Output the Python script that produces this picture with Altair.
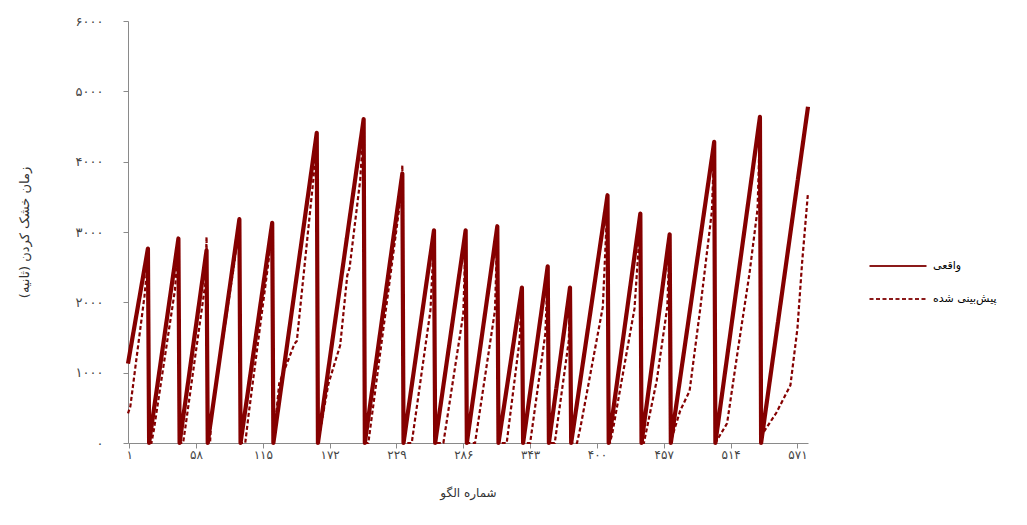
import json
import altair as alt
import pandas as pd

# ---- data (pattern index, drying time in seconds) ----
actual_x = [0, 17, 18, 43, 44, 67, 68, 95, 96, 123, 124, 161, 162, 201, 202, 234, 235, 261,
            262, 288, 289, 315, 316, 336, 337, 358, 359, 377, 378, 409, 410, 437, 438, 462,
            463, 500, 501, 539, 540, 580]
actual_y = [1130, 2765, 0, 2908, 0, 2740, 0, 3182, 0, 3130, 0, 4410, 0, 4605, 0, 3832, 0, 3025,
            0, 3025, 0, 3082, 0, 2210, 0, 2513, 0, 2210, 0, 3523, 0, 3263, 0, 2968,
            0, 4282, 0, 4637, 0, 4780]

pred_x = [0, 2, 14, 17,
          18, 20, 22, 40, 43,
          44, 47, 49, 66, 67,
          68, 70, 71, 91, 95,
          96, 100, 103, 120, 123,
          124, 129, 142, 144, 158, 161,
          162, 171, 181, 187, 189, 198, 201,
          202, 205, 220, 233, 234,
          235, 242, 258, 261,
          262, 269, 286, 288,
          289, 296, 313, 315,
          316, 323, 334, 336,
          337, 343, 356, 358,
          359, 364, 376, 377,
          378, 383, 386, 405, 409,
          410, 411, 413, 432, 437,
          438, 440, 451, 460, 462,
          463, 464, 471, 479, 488, 498, 500,
          501, 511, 520, 530, 537, 539,
          540, 553, 565, 571, 575, 580]
pred_y = [420, 520, 2080, 2600,
          0, 0, 180, 2170, 2800,
          0, 0, 230, 2270, 2930,
          0, 0, 370, 2600, 3150,
          0, 0, 420, 2600, 3050,
          0, 850, 1410, 1450, 3730, 4300,
          0, 845, 1390, 2380, 2490, 3730, 4500,
          0, 0, 1900, 3550, 3950,
          0, 0, 1890, 2950,
          0, 0, 1840, 2950,
          0, 0, 1885, 3000,
          0, 0, 1460, 2150,
          0, 0, 1560, 2450,
          0, 0, 1460, 2150,
          0, 0, 230, 1935, 3450,
          0, 0, 130, 1910, 3150,
          0, 0, 890, 1935, 2900,
          0, 80, 460, 740, 1900, 3290, 4200,
          0, 280, 1300, 2400, 3330, 4500,
          100, 430, 820, 1630, 2570, 3560]

series_names = ["واقعی", "پیش‌بینی شده"]

x_tick_values = [1, 58, 115, 172, 229, 286, 343, 400, 457, 514, 571]
x_tick_labels = ["۱", "۵۸", "۱۱۵", "۱۷۲", "۲۲۹", "۲۸۶", "۳۴۳", "۴۰۰", "۴۵۷", "۵۱۴", "۵۷۱"]
y_tick_values = [0, 1000, 2000, 3000, 4000, 5000, 6000]
y_tick_labels = ["۰", "۱۰۰۰", "۲۰۰۰", "۳۰۰۰", "۴۰۰۰", "۵۰۰۰", "۶۰۰۰"]

x_title = "شماره الگو"
y_title = "زمان خشک کردن (ثانیه)"

# ---- build table ----
df = pd.DataFrame({
    "i": actual_x + pred_x,
    "v": actual_y + pred_y,
    "s": [series_names[0]] * len(actual_x) + [series_names[1]] * len(pred_x),
})

FONT = "DejaVu Sans"
RED = "#850000"

x_label_expr = "%s[indexof(%s, datum.value)]" % (
    json.dumps(x_tick_labels, ensure_ascii=False), json.dumps(x_tick_values))
y_label_expr = "%s[indexof(%s, datum.value)]" % (
    json.dumps(y_tick_labels, ensure_ascii=False), json.dumps(y_tick_values))

x_enc = alt.X(
    "i:Q",
    scale=alt.Scale(domain=[0, 580], nice=False, zero=False),
    axis=alt.Axis(
        values=x_tick_values, labelExpr=x_label_expr, grid=False,
        domainColor="#8a8a8a", tickColor="#8a8a8a", tickSize=5,
        labelFont=FONT, labelFontSize=12, labelColor="#444444", labelPadding=1,
        labelFlush=False, labelOverlap=False,
        title=x_title, titleFont=FONT, titleFontSize=12, titleFontWeight="normal",
        titleColor="#333333", titleX=340, titleY=49, titleBaseline="middle",
        titleAlign="center",
    ),
)
y_enc = alt.Y(
    "v:Q",
    scale=alt.Scale(domain=[0, 6000], nice=False),
    axis=alt.Axis(
        values=y_tick_values, labelExpr=y_label_expr, grid=False,
        domainColor="#8a8a8a", tickColor="#8a8a8a", tickSize=5,
        labelFont=FONT, labelFontSize=13, labelColor="#444444", labelPadding=20,
        labelFlush=False, labelOverlap=False,
        title=y_title, titleFont=FONT, titleFontSize=13, titleFontWeight="normal",
        titleColor="#333333", titleX=-104, titleY=211, titleAngle=270,
        titleAlign="center", titleBaseline="middle",
    ),
)
dash_enc = alt.StrokeDash(
    "s:N",
    scale=alt.Scale(domain=series_names, range=[[1, 0], [4, 2.5]]),
    legend=alt.Legend(
        title=None, orient="none", legendX=763, legendY=238, padding=0,
        symbolType="M-5,0H5", symbolSize=130, symbolStrokeWidth=2,
        symbolStrokeColor="#8B1A1A", labelOffset=28, rowPadding=21,
        labelFont=FONT, labelFontSize=11, labelColor="#000000",
    ),
)

actual_layer = alt.Chart(df).transform_filter(
    alt.datum.s == series_names[0]
).mark_line(color=RED, strokeWidth=4.2, strokeJoin="round").encode(
    x=x_enc, y=y_enc, strokeDash=dash_enc
)
pred_layer = alt.Chart(df).transform_filter(
    alt.datum.s == series_names[1]
).mark_line(color=RED, strokeWidth=2.2, strokeJoin="round").encode(
    x=x_enc, y=y_enc, strokeDash=dash_enc
)

chart = alt.layer(actual_layer, pred_layer).properties(
    width=680, height=422,
    autosize=alt.AutoSizeParams(type="none"),
    padding={"left": 120, "top": 13, "right": 205, "bottom": 70},
    background="white",
).configure_view(stroke=None)

chart.save("out.html", embed_options={"renderer": "svg", "actions": False})
